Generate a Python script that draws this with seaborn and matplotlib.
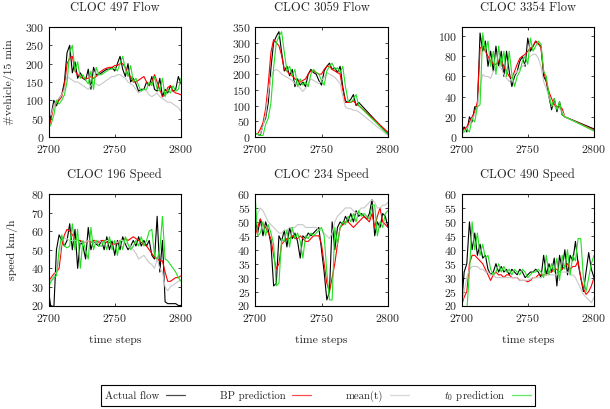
import matplotlib
matplotlib.use("Agg")
import matplotlib.pyplot as plt
from matplotlib.lines import Line2D
import seaborn as sns
import pandas as pd

# x grids (time steps)
x_full = list(range(2700, 2801, 2))
x_gap = list(range(2700, 2779, 2)) + [2800]

series_names = ["Actual flow", "BP prediction", "mean(t)", "$t_0$ prediction"]
series_colors = ["black", "red", "#c8c8c8", "#22e022"]

# CLOC 497 Flow
f497_actual = [30, 60, 100, 85, 105, 115, 150, 230, 250, 175, 205, 160, 175, 160, 155, 185, 130, 190, 170, 170,
               175, 180, 185, 185, 190, 180, 200, 220, 185, 165, 200, 150, 160, 145, 125, 130, 130, 150, 140, 165,
               130, 125, 160, 110, 130, 120, 140, 125, 130, 165, 145]
f497_bp = [20, 50, 85, 95, 100, 110, 140, 200, 215, 220, 180, 170, 165, 160, 160, 160, 165, 160, 165, 175,
           180, 185, 188, 190, 190, 195, 195, 200, 200, 190, 170, 165, 150, 150, 155, 160, 165, 150, 140, 150,
           170, 150, 130, 110, 115, 135, 140, 125, 120, 118, 115]
f497_mean = [75, 60, 85, 100, 105, 115, 130, 165, 160, 155, 150, 150, 145, 140, 135, 130, 140, 150, 145, 140,
             145, 150, 155, 160, 165, 165, 170, 170, 165, 160, 150, 145, 140, 130, 120, 125, 130, 125, 115, 110,
             115, 120, 110, 105, 100, 95, 95, 90, 85, 80, 70]
f497_t0 = [25, 35, 60, 100, 90, 100, 115, 150, 230, 250, 180, 205, 160, 170, 155, 145, 180, 130, 190, 170,
           170, 175, 180, 185, 185, 190, 180, 200, 220, 185, 165, 195, 150, 160, 140, 125, 130, 130, 150, 140,
           165, 130, 125, 160, 110, 130, 120, 140, 125, 130, 160]

# CLOC 3059 Flow
f3059_actual = [10, 8, 5, 40, 60, 110, 220, 300, 320, 335, 270, 210, 225, 195, 215, 160, 185, 165, 175, 160,
                200, 215, 205, 200, 180, 165, 210, 225, 235, 215, 220, 205, 225, 160, 115, 110, 120, 135, 100, 110, 10]
f3059_bp = [10, 10, 25, 45, 90, 170, 270, 310, 300, 290, 260, 215, 210, 200, 195, 185, 180, 175, 180, 185,
            200, 210, 210, 205, 200, 200, 215, 225, 225, 215, 210, 205, 200, 150, 110, 110, 110, 115, 105, 100, 15]
f3059_mean = [10, 8, 10, 35, 70, 140, 190, 210, 215, 210, 200, 195, 190, 185, 180, 170, 165, 155, 145, 155,
              170, 185, 180, 175, 170, 180, 190, 205, 200, 195, 190, 180, 170, 130, 95, 90, 90, 85, 85, 80, 5]
f3059_t0 = [10, 10, 5, 5, 40, 60, 110, 220, 300, 320, 335, 270, 210, 225, 195, 215, 160, 185, 165, 175,
            160, 200, 215, 205, 200, 180, 165, 210, 225, 235, 215, 220, 205, 225, 160, 115, 110, 120, 135, 100, 8]

# CLOC 3354 Flow
f3354_actual = [5, 10, 5, 20, 15, 30, 30, 103, 85, 95, 70, 85, 65, 90, 70, 85, 60, 85, 65, 50,
                60, 65, 75, 80, 70, 98, 85, 90, 95, 92, 90, 60, 55, 40, 27, 38, 25, 35, 22, 20, 8]
f3354_bp = [5, 8, 10, 15, 20, 25, 35, 88, 90, 85, 80, 75, 72, 72, 75, 75, 70, 65, 60, 58,
            65, 72, 78, 80, 82, 85, 88, 90, 95, 93, 88, 65, 55, 45, 38, 32, 30, 30, 28, 20, 7]
f3354_mean = [3, 5, 8, 12, 18, 22, 30, 50, 62, 60, 60, 58, 65, 68, 70, 68, 62, 58, 55, 58,
              62, 65, 68, 70, 72, 78, 80, 82, 82, 78, 70, 55, 48, 40, 32, 30, 28, 28, 25, 20, 6]
f3354_t0 = [5, 5, 8, 5, 18, 15, 30, 32, 103, 85, 95, 70, 85, 62, 90, 70, 85, 60, 85, 62,
            50, 60, 65, 75, 80, 72, 98, 85, 90, 95, 92, 65, 60, 42, 30, 38, 27, 35, 22, 20, 6]

# CLOC 196 Speed
s196_actual = [28, 18, 18, 50, 58, 55, 52, 55, 64, 50, 61, 40, 55, 52, 45, 62, 50, 55, 53, 52,
               55, 50, 57, 50, 55, 47, 55, 50, 57, 53, 50, 52, 55, 52, 57, 52, 55, 52, 55, 47,
               45, 68, 38, 55, 22, 21, 21, 21, 21, 20, 20]
s196_bp = [33, 35, 37, 38, 40, 52, 58, 61, 60, 58, 56, 55, 55, 54, 54, 55, 54, 55, 55, 54,
           55, 55, 54, 54, 53, 53, 54, 55, 55, 56, 55, 56, 57, 56, 55, 54, 53, 52, 50, 48,
           46, 45, 44, 44, 38, 33, 33, 34, 35, 35, 36]
s196_mean = [32, 34, 36, 38, 45, 55, 56, 56, 55, 55, 55, 55, 54, 54, 54, 55, 55, 54, 55, 55,
             54, 54, 55, 55, 55, 54, 54, 55, 55, 54, 53, 52, 50, 48, 45, 46, 47, 45, 43, 42,
             40, 45, 40, 38, 30, 28, 30, 31, 32, 33, 34]
s196_t0 = [30, 33, 35, 36, 50, 58, 52, 51, 52, 64, 50, 61, 40, 55, 50, 45, 62, 50, 55, 52,
           52, 55, 50, 57, 50, 55, 47, 55, 50, 57, 53, 50, 52, 55, 52, 57, 52, 55, 60, 61,
           47, 45, 50, 68, 45, 44, 42, 40, 38, 35, 33]

# CLOC 234 Speed
s234_actual = [52, 46, 51, 45, 50, 47, 42, 27, 28, 45, 43, 47, 41, 48, 44, 46, 43, 37, 45, 44,
               46, 45, 46, 47, 48, 40, 32, 22, 25, 50, 40, 48, 50, 49, 52, 50, 53, 50, 54, 52,
               53, 52, 51, 53, 58, 45, 50, 48, 53, 52, 48]
s234_bp = [45, 48, 51, 49, 48, 46, 44, 38, 33, 35, 42, 43, 44, 44, 45, 44, 44, 45, 44, 43,
           43, 44, 45, 45, 45, 42, 35, 28, 25, 30, 35, 42, 48, 49, 50, 50, 49, 48, 49, 50,
           51, 52, 51, 50, 53, 48, 52, 55, 50, 49, 48]
s234_mean = [50, 53, 55, 54, 52, 50, 49, 48, 47, 46, 46, 47, 47, 48, 48, 48, 49, 49, 49, 48,
             48, 48, 48, 48, 47, 47, 46, 45, 44, 46, 50, 52, 53, 54, 55, 55, 55, 54, 53, 54,
             55, 55, 56, 57, 58, 57, 55, 55, 56, 56, 57]
s234_t0 = [60, 45, 46, 50, 45, 49, 46, 42, 27, 28, 44, 43, 47, 41, 48, 44, 46, 43, 37, 45,
           44, 46, 45, 46, 47, 48, 45, 32, 22, 22, 48, 42, 48, 50, 49, 52, 50, 53, 50, 54,
           52, 53, 52, 51, 56, 56, 45, 50, 48, 53, 54]

# CLOC 490 Speed
s490_actual = [20, 32, 35, 50, 40, 46, 38, 42, 37, 38, 33, 31, 32, 35, 32, 34, 32, 33, 31, 33,
               32, 31, 33, 32, 30, 31, 32, 32, 33, 32, 30, 38, 31, 35, 32, 37, 27, 38, 33, 40,
               31, 38, 36, 43, 35, 30, 25, 32, 39, 33, 30]
s490_bp = [20, 23, 25, 35, 38, 38, 37, 36, 35, 33, 31, 29, 31, 32, 31, 31, 30, 31, 31, 30,
           30, 30, 29, 29, 29, 28.5, 29, 30, 30, 31, 31, 31, 31, 32, 32, 33, 33, 32, 33, 34,
           35, 33, 34, 34, 36, 30, 26, 24, 25, 27, 30]
s490_mean = [20, 25, 30, 33, 34, 34, 34, 33, 33, 32, 32, 31, 31, 30, 30, 30, 30, 30, 30, 30,
             30, 30, 29, 29, 29, 29, 29.5, 30, 30, 30, 30, 31, 31, 31, 31, 31, 31, 32, 32, 32,
             32, 31, 31, 30, 28, 26, 24, 23, 22, 21, 23]
s490_t0 = [15, 15, 18, 32, 50, 40, 46, 38, 42, 37, 38, 33, 31, 32, 35, 32, 34, 32, 33, 31,
           33, 32, 31, 33, 32, 30, 31, 32, 32, 33, 32, 30, 38, 31, 35, 32, 37, 29, 38, 33,
           40, 31, 38, 36, 44, 44, 30, 25, 30, 35, 38]

panels = [
    ("CLOC 497 Flow", x_full, [f497_actual, f497_bp, f497_mean, f497_t0], (0, 300), range(0, 301, 50), "#vehicle/15 min", "", 7.5),
    ("CLOC 3059 Flow", x_gap, [f3059_actual, f3059_bp, f3059_mean, f3059_t0], (0, 350), range(0, 351, 50), "", "", 4),
    ("CLOC 3354 Flow", x_gap, [f3354_actual, f3354_bp, f3354_mean, f3354_t0], (0, 109), range(0, 101, 20), "", "", 4),
    ("CLOC 196 Speed", x_full, [s196_actual, s196_bp, s196_mean, s196_t0], (20, 80), range(20, 81, 10), "speed km/h", "time steps", 9),
    ("CLOC 234 Speed", x_full, [s234_actual, s234_bp, s234_mean, s234_t0], (20, 60), range(20, 61, 5), "", "time steps", 4),
    ("CLOC 490 Speed", x_full, [s490_actual, s490_bp, s490_mean, s490_t0], (20, 60), range(20, 61, 5), "", "time steps", 4),
]

sns.set_style("ticks")
plt.rcParams["font.family"] = ["cmr10", "DejaVu Serif"]
plt.rcParams["mathtext.fontset"] = "cm"
plt.rcParams["axes.formatter.use_mathtext"] = True
plt.rcParams["font.size"] = 8.5

W, H = 610, 409
fig = plt.figure(figsize=(W / 100, H / 100), dpi=100)

# axes boxes in pixels: left, top, right, bottom
lefts = [(48.5, 181), (255, 388), (461.5, 594)]
rows = [(27, 137), (194, 305.5)]

pal = dict(zip(series_names, series_colors))

for i, (title, xs, vals, ylim, yt, ylab, xlab, ypad) in enumerate(panels):
    l, r = lefts[i % 3]
    t, b = rows[i // 3]
    ax = fig.add_axes([l / W, 1 - b / H, (r - l) / W, (b - t) / H])
    df = pd.concat([pd.DataFrame({"x": xs, "y": v, "series": n}) for n, v in zip(series_names, vals)])
    sns.lineplot(data=df, x="x", y="y", hue="series", hue_order=series_names, palette=pal,
                 estimator=None, sort=False, linewidth=0.8, legend=False, ax=ax)
    ax.set_xlim(2700, 2800)
    ax.set_ylim(*ylim)
    ax.set_xticks([2700, 2750, 2800])
    ax.set_yticks(list(yt))
    ax.set_title(title, fontsize=9, pad=11.5)
    ax.set_ylabel(ylab, fontsize=8.5, labelpad=ypad)
    ax.set_xlabel(xlab, fontsize=8.5, labelpad=8)
    ax.tick_params(direction="in", top=True, right=True, length=2.5, width=0.6, labelsize=8.5)
    ax.tick_params(axis="x", pad=4.5)
    ax.tick_params(axis="y", pad=3)
    for s in ax.spines.values():
        s.set_linewidth(0.8)
        s.set_color("black")

handles = [Line2D([], [], color=c, linewidth=0.9, alpha=0.7) for c in series_colors]
leg = fig.legend(handles, series_names, loc="center", bbox_to_anchor=(318 / W, 1 - 395.5 / H), ncol=4,
                 markerfirst=False, handlelength=1.8, columnspacing=3.2, handletextpad=0.6,
                 fancybox=False, edgecolor="black", framealpha=1, fontsize=7.8,
                 borderpad=0.3)
leg.get_frame().set_linewidth(0.8)

fig.savefig("out.png", dpi=100)
